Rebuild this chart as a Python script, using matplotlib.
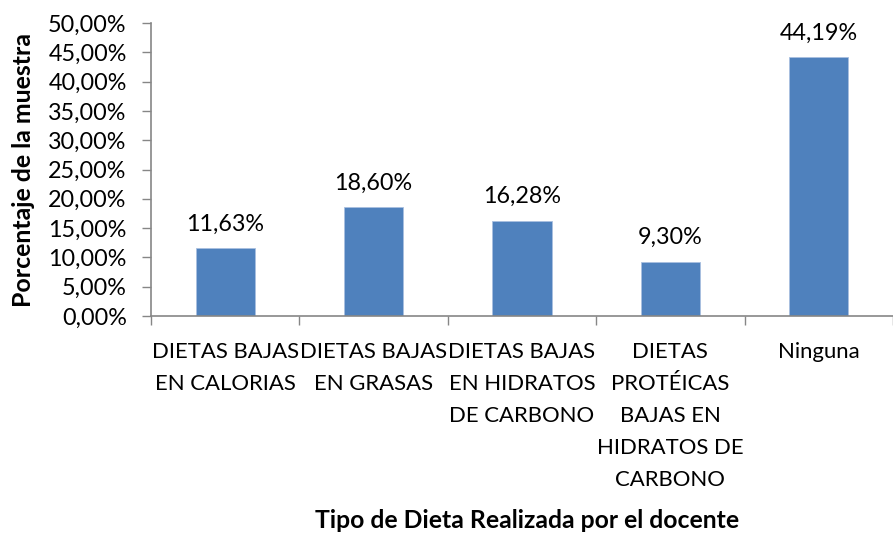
import matplotlib
matplotlib.use("Agg")
import matplotlib.pyplot as plt
from matplotlib.ticker import FuncFormatter, MultipleLocator

categories = ["DIETAS BAJAS\nEN CALORIAS", "DIETAS BAJAS\nEN GRASAS",
              "DIETAS BAJAS\nEN HIDRATOS\nDE CARBONO",
              "DIETAS\nPROTÉICAS\nBAJAS EN\nHIDRATOS DE\nCARBONO", "Ninguna"]
values = [11.63, 18.60, 16.28, 9.30, 44.19]
ylabel = "Porcentaje de la muestra"
xlabel = "Tipo de Dieta Realizada por el docente"

plt.rcParams['font.family'] = ['Lato', 'DejaVu Sans']
fig = plt.figure(figsize=(8.93, 5.33), dpi=100)
renderer = fig.canvas.get_renderer()


def fitted_size(text, target_px, weight='normal'):
    t = fig.text(0, 0, text, fontsize=10, fontweight=weight)
    w = t.get_window_extent(renderer).width
    t.remove()
    return 10 * target_px / w


fs_tick = fitted_size("DIETAS BAJAS", 146)
fs_num = fitted_size("50,00%", 78)
fs_xlab = fitted_size(xlabel, 425, 'bold')
fs_ylab = fitted_size(ylabel, 276, 'bold')

ax = fig.add_axes([151/893, 1-316/533, 1-151/893, (316-23)/533])

x = list(range(len(values)))
ax.bar(x, values, width=0.4, color='#4F81BD', edgecolor='#a9c0e0', linewidth=0.6, zorder=2)
for xi, v in zip(x, values):
    ax.annotate(f"{v:.2f}%".replace('.', ','), (xi, v), xytext=(0, 12.5),
                textcoords='offset points', ha='center', va='baseline', fontsize=fs_num)

ax.set_ylim(0, 50)
ax.set_xlim(-0.5, 4.43)
ax.yaxis.set_major_locator(MultipleLocator(5))
ax.yaxis.set_major_formatter(FuncFormatter(lambda v, p: f"{v:.2f}%".replace('.', ',')))
ax.set_xticks([i - 0.5 for i in range(6)])
ax.set_xticks(x, minor=True)
ax.set_xticklabels([])
ax.set_xticklabels(categories, minor=True, fontsize=fs_tick, linespacing=1.74, va='top')
ax.tick_params(axis='x', which='minor', length=0, pad=19)
ax.tick_params(axis='x', which='major', length=6.5, color='#868686', width=1)
ax.tick_params(axis='y', length=6.5, color='#868686', width=1, labelsize=fs_num, pad=11)
for s in ['top', 'right']:
    ax.spines[s].set_visible(False)
for s in ['left', 'bottom']:
    ax.spines[s].set_color('#868686')
    ax.spines[s].set_linewidth(1.2)

fig.text(24/893, 1-170/533, ylabel, rotation=90, ha='center', va='center',
         fontsize=fs_ylab, fontweight='bold')
fig.text(527/893, 1-520/533, xlabel, ha='center', va='center',
         fontsize=fs_xlab, fontweight='bold')

fig.savefig("out.png", dpi=100)
